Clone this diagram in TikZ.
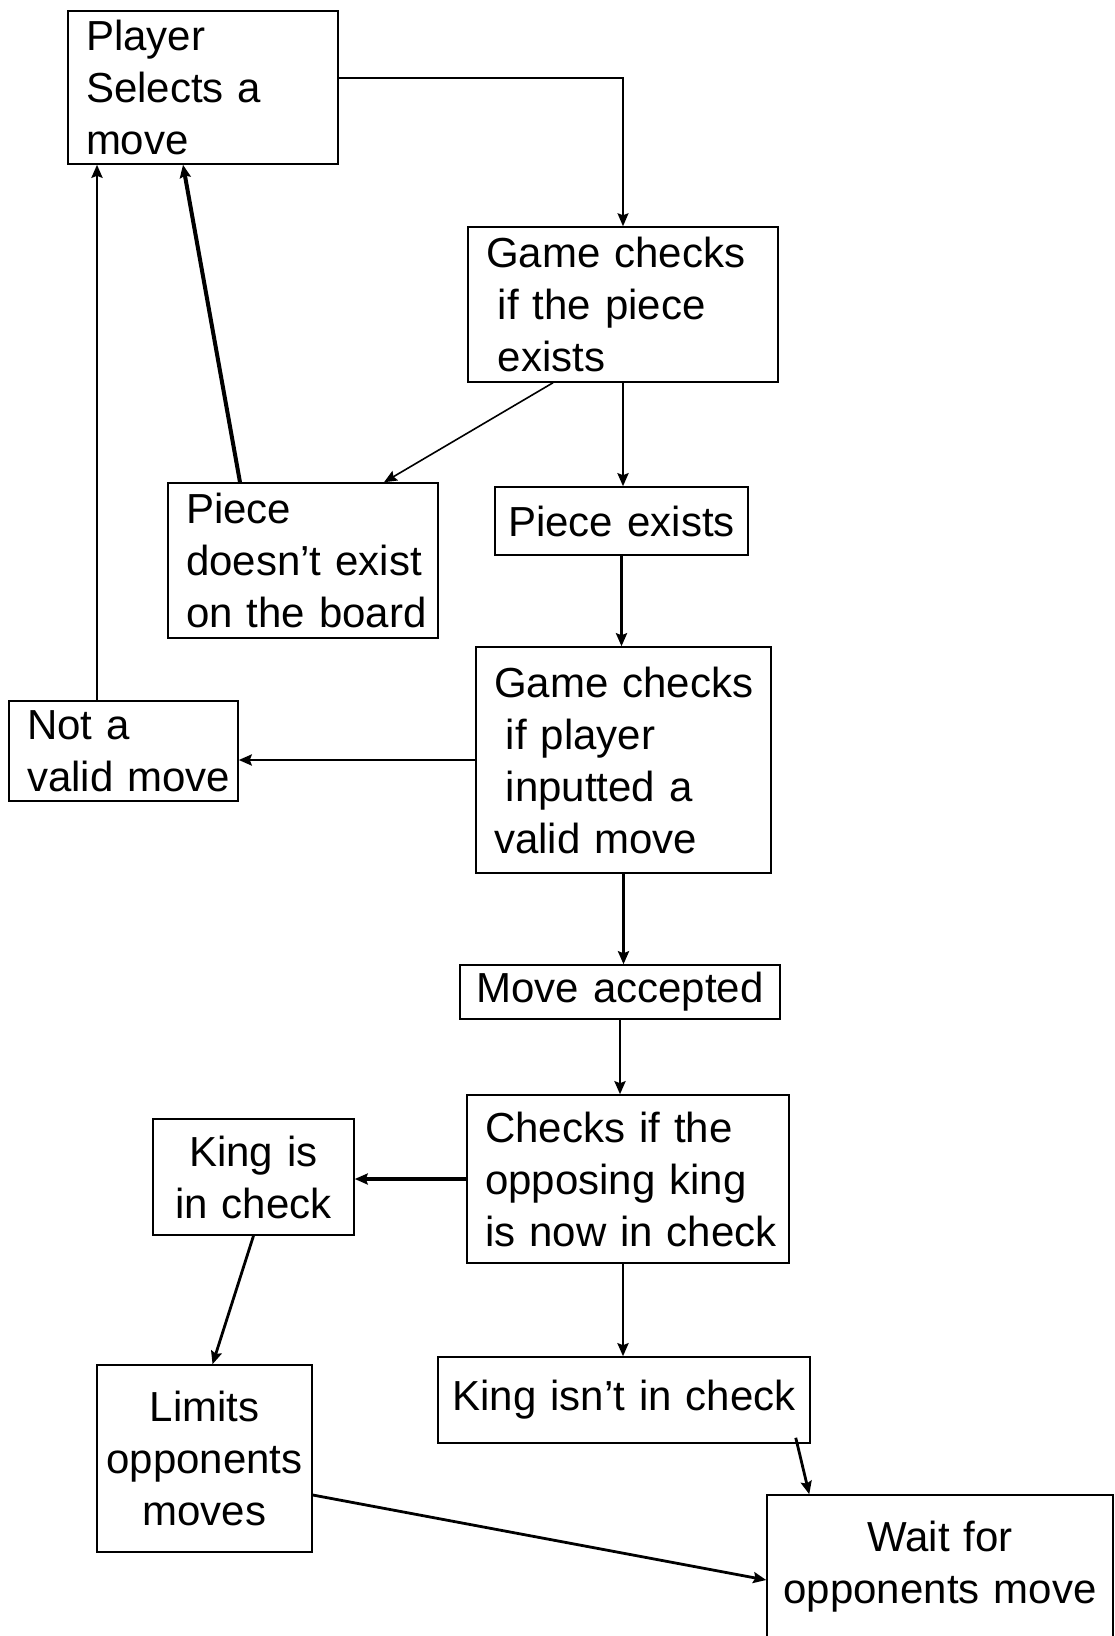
\documentclass[tikz,border=0pt]{standalone}
\usepackage{fontspec}
\setmainfont{Liberation Sans}
\usetikzlibrary{arrows.meta, positioning, calc}
\newcommand{\indsp}{\hspace*{0.28em}}
\hyphenpenalty=10000
\exhyphenpenalty=10000

\begin{document}
\begin{tikzpicture}[
    x=0.5pt, y=-0.5pt,
    font=\fontsize{21}{26}\selectfont,
    block/.style={
        rectangle,
        draw=black,
        line width=0.75pt,
        inner xsep=9pt,
        inner ysep=0pt,
        align=left
    },
    cblock/.style={
        block,
        inner xsep=2pt,
        align=center
    },
    arrow/.style={
        -{Stealth[length=6.5pt, width=5.5pt, inset=1pt]},
        line width=1.4pt
    },
    thinarrow/.style={arrow, line width=0.8pt},
    thickarrow/.style={arrow, line width=2pt}
]
\useasboundingbox (0,0) rectangle (1114,1636);

% Nodes
\node[block, minimum height=76.5pt, text width=117pt] (player) at (203,87.5) {Player\\Selects a\\move};
\node[block, minimum height=77.5pt, text width=137pt] (checkpiece) at (623,304.5) {Game checks\\\indsp if the piece\\\indsp exists};
\node[block, minimum height=77.5pt, text width=117pt] (nopiece) at (303,560.5) {Piece\\doesn’t~exist\\on~the~board};
\node[cblock, minimum height=34pt, text width=122.5pt] (pieceok) at (621.5,521) {Piece exists};
\node[block, minimum height=113pt, text width=129.5pt] (checkmove) at (623.5,760) {Game~checks\\\indsp if player\\\indsp inputted a\\valid move};
\node[block, minimum height=50pt, text width=96.5pt] (invalid) at (123.5,751) {Not a\\valid~move};
\node[cblock, minimum height=27pt, text width=156pt] (accepted) at (620,992) {Move accepted};
\node[block, minimum height=84pt, text width=143pt] (checkking) at (628,1179) {Checks if the\\opposing king\\is~now~in~check};
\node[cblock, minimum height=58pt, text width=96.5pt] (incheck) at (253.5,1177) {King is\\in check};
\node[cblock, minimum height=43pt, text width=182pt] (notcheck) at (624,1400) {King isn’t in check};
\node[cblock, minimum height=93.5pt, text width=103.5pt] (limits) at (204.5,1458.5) {Limits\\opponents\\moves};
\node[cblock, minimum height=72pt, text width=169pt] (wait) at (940,1567) {Wait for\\opponents move};

% Arrows
\draw[thinarrow] ([yshift=4.75pt]player.east) -| (checkpiece.north);
\draw[thinarrow] ([xshift=-35pt]checkpiece.south) -- ([xshift=40.5pt]nopiece.north);
\draw[arrow] (checkpiece.south) -- (checkpiece.south |- pieceok.north);
\draw[thickarrow] ([xshift=-31.5pt]nopiece.north) -- ([xshift=-10pt]player.south);
\draw[arrow] ([xshift=-13.25pt]invalid.north) -- ([xshift=-13.25pt]invalid.north |- player.south);
\draw[arrow] (pieceok.south) -- (pieceok.south |- checkmove.north);
\draw[arrow] (checkmove.west) -- (checkmove.west -| invalid.east);
\draw[arrow] (checkmove.south) -- (checkmove.south |- accepted.north);
\draw[arrow] (accepted.south) -- (accepted.south |- checkking.north);
\draw[thickarrow] (checkking.west) -- (checkking.west -| incheck.east);
\draw[arrow] (incheck.south) -- ([xshift=4pt]limits.north);
\draw[arrow] ([xshift=-2.5pt]checkking.south) -- ([xshift=-2.5pt]checkking.south |- notcheck.north);
\draw[arrow] ([xshift=-7.5pt,yshift=3pt]notcheck.south east) -- ([xshift=21.5pt]wait.north west);
\draw[arrow] ([yshift=-18.25pt]limits.east) -- ([yshift=-6.5pt]wait.west);

\end{tikzpicture}
\end{document}
